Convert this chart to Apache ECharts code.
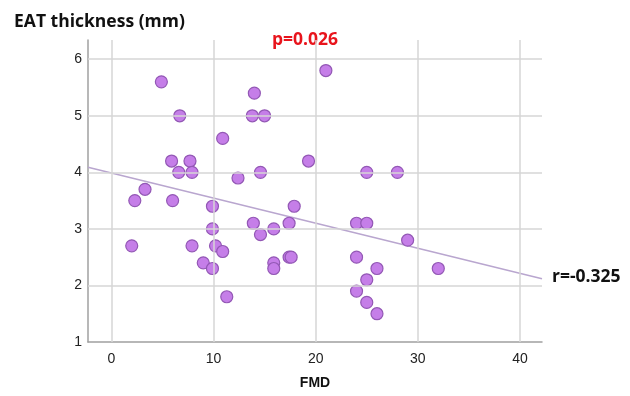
<!DOCTYPE html>
<html>
<head>
<meta charset="utf-8">
<script src="https://cdn.jsdelivr.net/npm/echarts@6/dist/echarts.min.js"></script>
<style>
  html, body { margin: 0; padding: 0; background: #fff; }
  #chart { width: 630px; height: 396px; }
</style>
</head>
<body>
<div id="chart"></div>
<script>
// FMD (x) vs EAT thickness (y)
const fmd = [4.9, 6.7, 5.9, 6.6, 7.7, 7.9, 10.9, 12.4, 14.0, 13.8, 15.0, 14.6, 19.3,
  21.0, 25.0, 28.0, 3.3, 2.3, 6.0, 9.9, 2.0, 9.9, 7.9, 10.2, 10.9, 9.0, 9.9, 11.3,
  13.9, 14.6, 15.9, 15.9, 15.9, 17.4, 17.9, 17.4, 17.6, 24.0, 25.0, 29.0, 24.0,
  26.0, 25.0, 24.0, 25.0, 26.0, 32.0];
const eat = [5.6, 5.0, 4.2, 4.0, 4.2, 4.0, 4.6, 3.9, 5.4, 5.0, 5.0, 4.0, 4.2,
  5.8, 4.0, 4.0, 3.7, 3.5, 3.5, 3.4, 2.7, 3.0, 2.7, 2.7, 2.6, 2.4, 2.3, 1.8,
  3.1, 2.9, 3.0, 2.4, 2.3, 3.1, 3.4, 2.5, 2.5, 3.1, 3.1, 2.8, 2.5,
  2.3, 2.1, 1.9, 1.7, 1.5, 2.3];

// fit line end points
const fitX = [-2.28, 42.15];
const fitY = [4.09, 2.12];

const xTicks = [0, 10, 20, 30, 40];
const yTicks = [1, 2, 3, 4, 5, 6];

const chart = echarts.init(document.getElementById("chart"));

const option = {
  animation: false,
  grid: { left: 88, right: 88, top: 40, bottom: 54 },
  title: {
    text: "EAT thickness (mm)",
    left: 9,
    top: 8,
    textStyle: { fontFamily: "Open Sans", fontWeight: "bold", fontSize: 17.5, color: "#111" },
  },
  xAxis: {
    type: "value",
    min: -2.28,
    max: 42.15,
    name: "FMD",
    nameLocation: "middle",
    nameGap: 34,
    nameTextStyle: { fontFamily: "Liberation Sans", fontWeight: "bold", fontSize: 14, color: "#111" },
    axisLine: { show: true, onZero: false, lineStyle: { color: "#a0a0a0", width: 1.5 } },
    axisTick: { show: false },
    axisLabel: {
      customValues: xTicks,
      fontFamily: "Liberation Sans", fontSize: 14, color: "#222", margin: 10,
    },
    splitLine: { show: false },
  },
  yAxis: {
    type: "value",
    min: 1,
    max: 6.34,
    axisLine: { show: true, onZero: false, lineStyle: { color: "#a0a0a0", width: 1.5 } },
    axisTick: { show: false },
    axisLabel: {
      customValues: yTicks,
      fontFamily: "Liberation Sans", fontSize: 14, color: "#222", margin: 6,
    },
    splitLine: { show: false },
  },
  graphic: [
    {
      type: "text", left: 272, top: 31,
      style: { text: "p=0.026", fill: "#e8141c", font: "bold 17.5px 'Open Sans'" },
    },
    {
      type: "text", left: 552, top: 268,
      style: { text: "r=-0.325", fill: "#111", font: "bold 17.5px 'Open Sans'" },
    },
  ],
  series: [
    {
      // grid lines drawn as a line series so they sit at the tick values
      type: "line",
      silent: true,
      symbol: "none",
      data: [],
      markLine: {
        silent: true,
        symbol: "none",
        label: { show: false },
        lineStyle: { color: "#d6d6d6", width: 1.5, type: "solid" },
        data: xTicks.map((v) => ({ xAxis: v }))
          .concat(yTicks.filter((v) => v > 1).map((v) => ({ yAxis: v }))),
      },
    },
    {
      type: "line",
      silent: true,
      symbol: "none",
      data: fitX.map((x, i) => [x, fitY[i]]),
      lineStyle: { color: "#b9a6cf", width: 1.5 },
      z: 3,
    },
    {
      type: "scatter",
      data: fmd.map((x, i) => [x, eat[i]]),
      symbolSize: 12,
      itemStyle: { color: "#c57ee8", borderColor: "#9358b5", borderWidth: 1.2, opacity: 1 },
      z: 4,
    },
  ],
};

chart.setOption(option);
</script>
</body>
</html>
